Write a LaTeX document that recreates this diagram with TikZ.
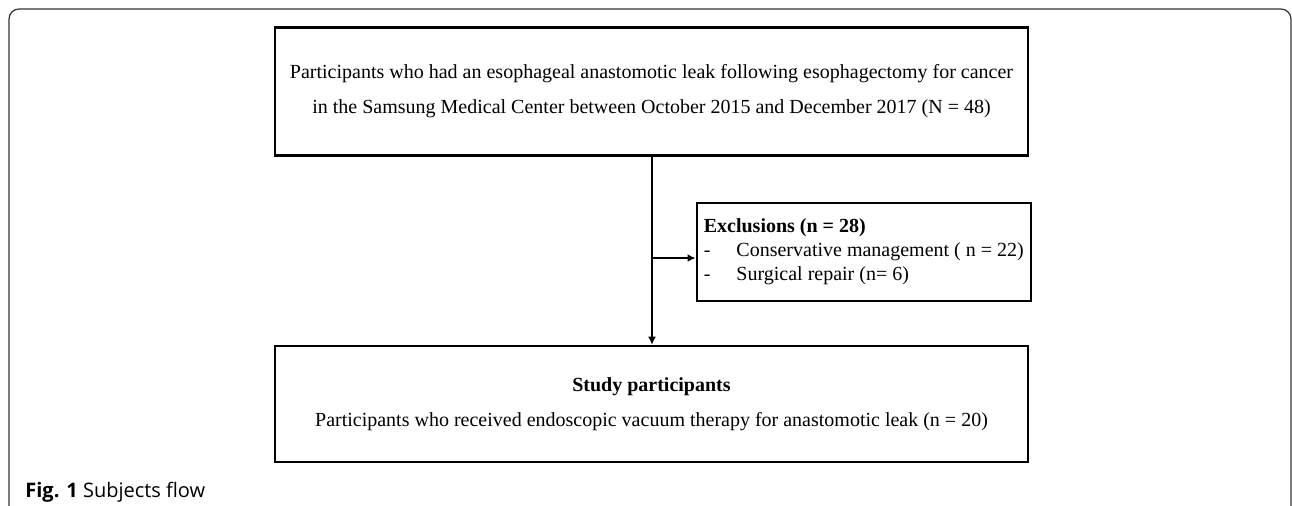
\documentclass[tikz,border=0pt]{standalone}
\usepackage{fontspec}
\setmainfont{Liberation Serif}
\setsansfont{Open Sans}
\usetikzlibrary{arrows.meta,positioning,calc}
\tikzset{
  flowbox/.style={
    draw, line width=1.3pt, minimum width=376.5pt, minimum height=64pt,
    font=\fontsize{10}{17.5}\selectfont, align=center, inner sep=0pt
  },
  exclbox/.style={
    draw, line width=1.3pt, minimum width=167pt, minimum height=49pt,
    font=\fontsize{10}{12}\selectfont, align=left, inner xsep=3.5pt, inner ysep=0pt
  },
  flowline/.style={-{Latex[length=4pt,width=4pt]}, line width=1pt},
  framepath/.style={draw=black!80, line width=0.6pt, rounded corners=5pt},
  captext/.style={font=\sffamily\fontsize{10}{12}\selectfont, anchor=base west, inner sep=0pt}
}
\begin{document}
\begin{tikzpicture}[x=0.5pt, y=-0.5pt]
  \useasboundingbox (0,0) rectangle (1292,505);
  % outer frame
  \draw[framepath] (9,510) -- (9,9) -- (1291,9) -- (1291,510);
  % boxes
  \node[flowbox] (enrol) at (651.5,91.5) {Participants who had an esophageal anastomotic leak following esophagectomy for cancer\\
    in the Samsung Medical Center between October 2015 and December 2017 (N = 48)};
  \node[exclbox, anchor=west] (excl) at (695.5,252) {\textbf{Exclusions (n = 28)}\\
    -\hspace{1.3em}Conservative management ( n = 22)\\
    -\hspace{1.3em}Surgical repair (n= 6)};
  \node[flowbox, minimum height=58pt] (study) at (651.5,404) {\textbf{Study participants}\\
    Participants who received endoscopic vacuum therapy for anastomotic leak (n = 20)};
  % connectors
  \coordinate (split) at (652,258);
  \draw[flowline] (enrol.south -| split) -- (study.north -| split);
  \draw[flowline] (split) -- (split -| excl.west);
  % caption
  \node[captext] (cap) at (25,497) {\textbf{Fig. 1} Subjects flow};
\end{tikzpicture}
\end{document}
